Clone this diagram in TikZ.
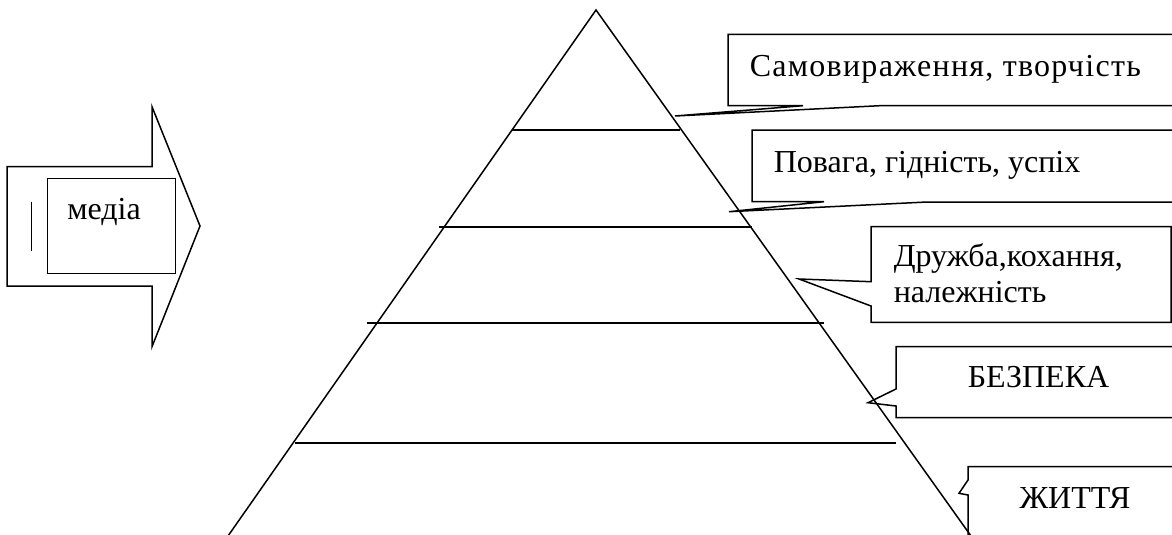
\documentclass[tikz,border=0pt]{standalone}
\usepackage{fontspec}
\setmainfont{Liberation Serif}
\newfontfamily\widefont[LetterSpace=4]{Liberation Serif}
\begin{document}
\begin{tikzpicture}[x=1pt,y=-1pt, line width=1.5pt, line join=miter,
  lbl/.style={font=\fontsize{32}{36}\selectfont, inner sep=0pt, anchor=base west},
  lblc/.style={lbl, anchor=base}]
\useasboundingbox (0,0) rectangle (1172,535);
\clip (0,0) rectangle (1172,535);
% pyramid
\coordinate (apex) at (596,10);
\coordinate (bl) at (228,536);
\coordinate (br) at (971,536);
\draw (bl) -- (apex) -- (br);
\draw (512,130) -- (680,130);
\draw (439,227) -- (752,227);
\draw (367,323) -- (824,323);
\draw (295,443) -- (896,443);
% callouts
\draw (1180,34.5) -- (728,34.5) -- (728,105.7) -- (803,105.7) -- (675,116) -- (880,105.7) -- (1180,105.7);
\draw (1180,130) -- (752,130) -- (752,201.7) -- (824,201.7) -- (729,211.7) -- (927,202) -- (1180,202);
\draw (871,226.7) -- (1171,226.7) -- (1171,322.3) -- (871,322.3) -- (871,306) -- (799,279) -- (871,281.7) -- cycle;
\draw (1180,346.7) -- (896,346.7) -- (896,389) -- (868,402.7) -- (896,406) -- (896,417.7) -- (1180,417.7);
\draw (1180,466.7) -- (968,466.7) -- (968,480) -- (959,493.3) -- (968,495) -- (968,540);
% arrow
\draw (7,166.7) -- (152,166.7) -- (152,106.7) -- (200,226) -- (152,346.7) -- (152,286) -- (7,286) -- cycle;
\draw (47.3,178.3) rectangle (175.7,273.3);
\draw (31.7,201.7) -- (31.7,250.7);
% texts
\node[lbl, font=\widefont\fontsize{32}{36}\selectfont] (t1) at (749,76) {Самовираження, творчість};
\node[lbl] (t2) at (773,172.3) {Повага, гідність, успіх};
\node[lbl] (t3) at (893,266.7) {Дружба,кохання,};
\node[lbl] (t3b) at (893,302.7) {належність};
\node[lblc] (t4) at (1038.5,387.3) {БЕЗПЕКА};
\node[lblc] (t5) at (1075,508.3) {ЖИТТЯ};
\node[lblc] (t6) at (104,219.3) {медіа};
\end{tikzpicture}
\end{document}
